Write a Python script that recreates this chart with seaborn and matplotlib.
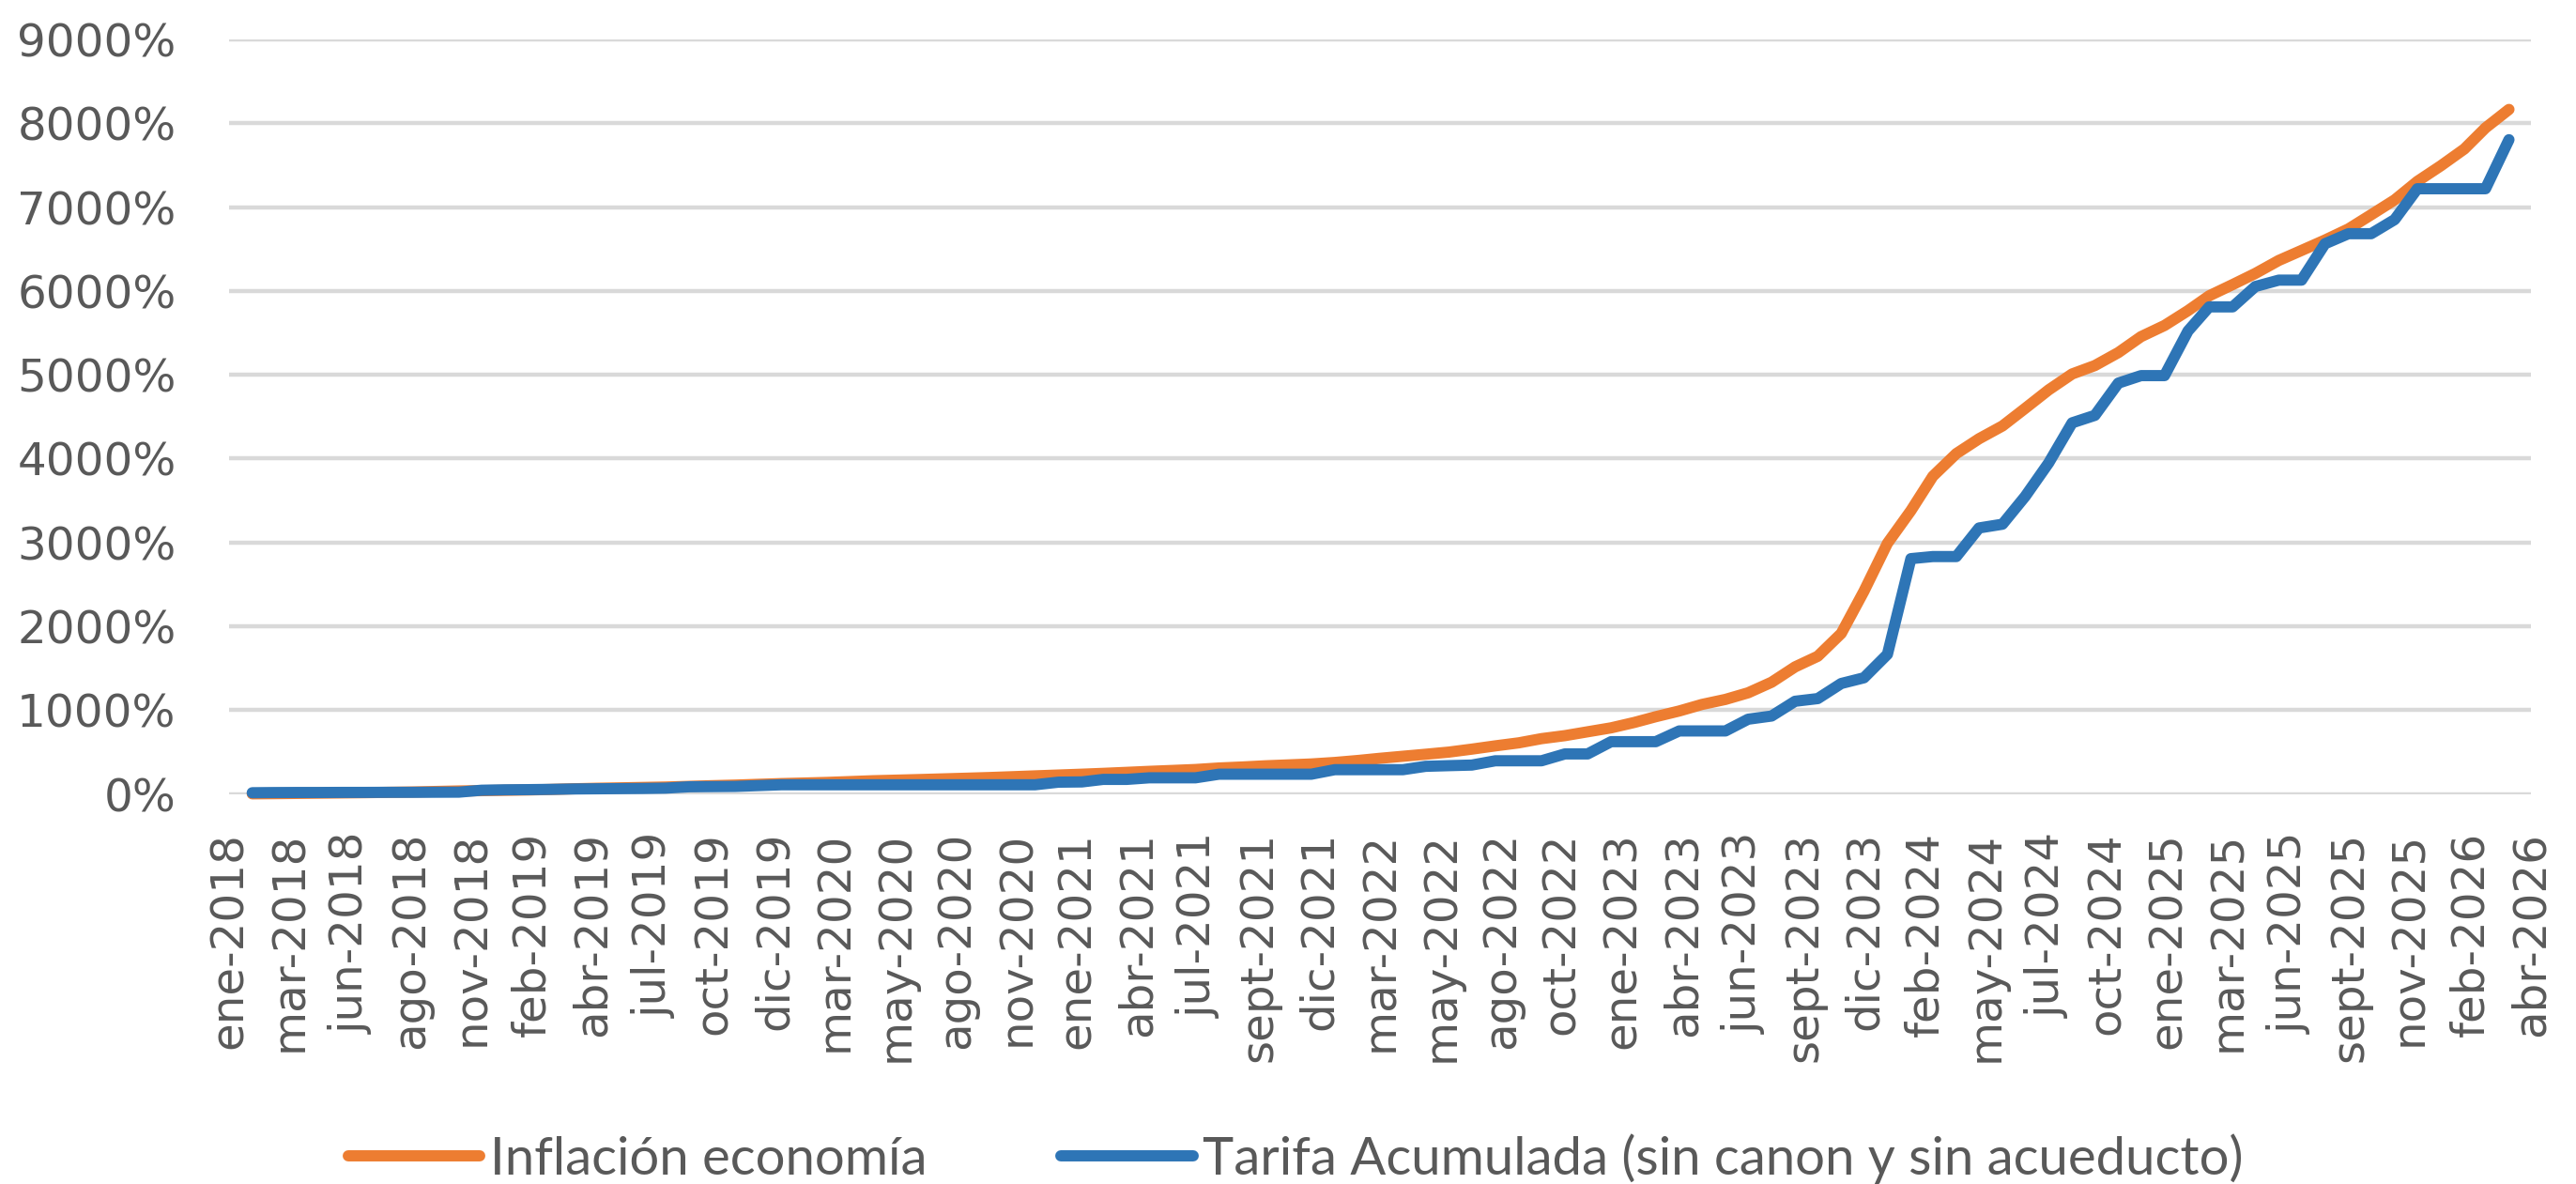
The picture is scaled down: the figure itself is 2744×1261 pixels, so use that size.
import pandas as pd
import numpy as np
import matplotlib
matplotlib.use("Agg")
import matplotlib.pyplot as plt
import seaborn as sns
from matplotlib.ticker import FuncFormatter

# monthly points, end of month, ene-2018 .. mar-2026
fechas = pd.date_range("2018-01-31", "2026-03-31", freq="ME")

inflacion = [
    2, 4, 7, 10, 13, 16, 20, 24, 30, 36, 40, 44,
    48, 54, 62, 68, 73, 78, 83, 91, 99, 106, 115, 124,
    131, 138, 148, 158, 165, 172, 180, 188, 196, 206, 216, 226,
    236, 246, 258, 270, 281, 292, 310, 322, 336, 347, 358, 376,
    400, 425, 450, 474, 500, 535, 574, 610, 660, 696, 742, 789,
    854, 922, 990, 1068, 1128, 1207, 1333, 1516, 1643, 1915, 2419, 2990,
    3380, 3790, 4060, 4237, 4390, 4600, 4820, 5010, 5110, 5265, 5455, 5588,
    5765, 5942, 6076, 6209, 6364, 6483, 6607, 6740, 6909, 7086, 7307, 7493,
    7693, 7945, 8165,
]

tarifa = [
    15, 17, 18, 18, 19, 19, 20, 20, 21, 22, 45, 50,
    52, 55, 60, 62, 64, 66, 70, 86, 88, 90, 100, 110,
    110, 110, 110, 110, 110, 110, 110, 110, 110, 110, 110, 141,
    144, 174, 174, 193, 193, 193, 236, 236, 236, 236, 236, 290,
    290, 290, 290, 330, 338, 345, 396, 396, 396, 478, 478, 624,
    624, 624, 752, 752, 752, 892, 930, 1106, 1138, 1318, 1386, 1666,
    2807, 2832, 2832, 3173, 3218, 3550, 3949, 4427, 4516, 4901, 4990, 4990,
    5522, 5810, 5810, 6053, 6129, 6129, 6563, 6683, 6683, 6851, 7219, 7219,
    7219, 7219, 7804,
]

etiquetas_x = [
    "ene-2018", "mar-2018", "jun-2018", "ago-2018", "nov-2018", "feb-2019",
    "abr-2019", "jul-2019", "oct-2019", "dic-2019", "mar-2020", "may-2020",
    "ago-2020", "nov-2020", "ene-2021", "abr-2021", "jul-2021", "sept-2021",
    "dic-2021", "mar-2022", "may-2022", "ago-2022", "oct-2022", "ene-2023",
    "abr-2023", "jun-2023", "sept-2023", "dic-2023", "feb-2024", "may-2024",
    "jul-2024", "oct-2024", "ene-2025", "mar-2025", "jun-2025", "sept-2025",
    "nov-2025", "feb-2026", "abr-2026",
]

serie_inflacion = "Inflación economía"
serie_tarifa = "Tarifa Acumulada (sin canon y sin acueducto)"

gris = "#595959"
naranja = "#ED7D31"
azul = "#2E75B6"

df = pd.DataFrame({"fecha": fechas, "inflacion": inflacion, "tarifa": tarifa})

sns.set_style("white")
plt.rcParams["font.family"] = ["DejaVu Sans"]

fig = plt.figure(figsize=(27.44, 12.61), dpi=100)
ax = fig.add_axes([0.0891, 0.3294, 0.8934, 0.6373])

estilo = dict(linewidth=8.6, solid_capstyle="round", solid_joinstyle="round", clip_on=False)
sns.lineplot(data=df, x="fecha", y="inflacion", ax=ax, color=naranja, label=serie_inflacion, **estilo)
sns.lineplot(data=df, x="fecha", y="tarifa", ax=ax, color=azul, label=serie_tarifa, **estilo)

# date axis: major unit of 80 days from ene-2018
ticks = pd.Timestamp("2018-01-01") + pd.to_timedelta(np.arange(len(etiquetas_x)) * 80, unit="D")
ax.set_xticks(ticks)
ax.set_xticklabels(etiquetas_x, rotation=90, fontsize=34.8, color=gris)
ax.set_xlim(ticks[0], ticks[-1])

ax.set_ylim(0, 9000)
ax.set_yticks(np.arange(0, 9001, 1000))
ax.yaxis.set_major_formatter(FuncFormatter(lambda v, p: f"{int(v)}%"))
ax.tick_params(axis="y", labelsize=34.8, labelcolor=gris, length=0, pad=41)
ax.tick_params(axis="x", length=0, pad=29)

ax.grid(axis="y", color="#d9d9d9", linewidth=3.2)
ax.grid(axis="x", visible=False)
ax.set_axisbelow(True)
for s in ax.spines.values():
    s.set_visible(False)
ax.set_xlabel("")
ax.set_ylabel("")

handles, labels = ax.get_legend_handles_labels()
ax.get_legend().remove()
fig.legend(handles, labels, loc="center", bbox_to_anchor=(0.503, 0.0214), ncol=2,
           frameon=False, handlelength=2.49, handletextpad=0.19, columnspacing=2.55,
           prop={"family": ["Lato", "DejaVu Sans"], "size": 40.5}, labelcolor=gris)

fig.savefig("out.png", dpi=100)
